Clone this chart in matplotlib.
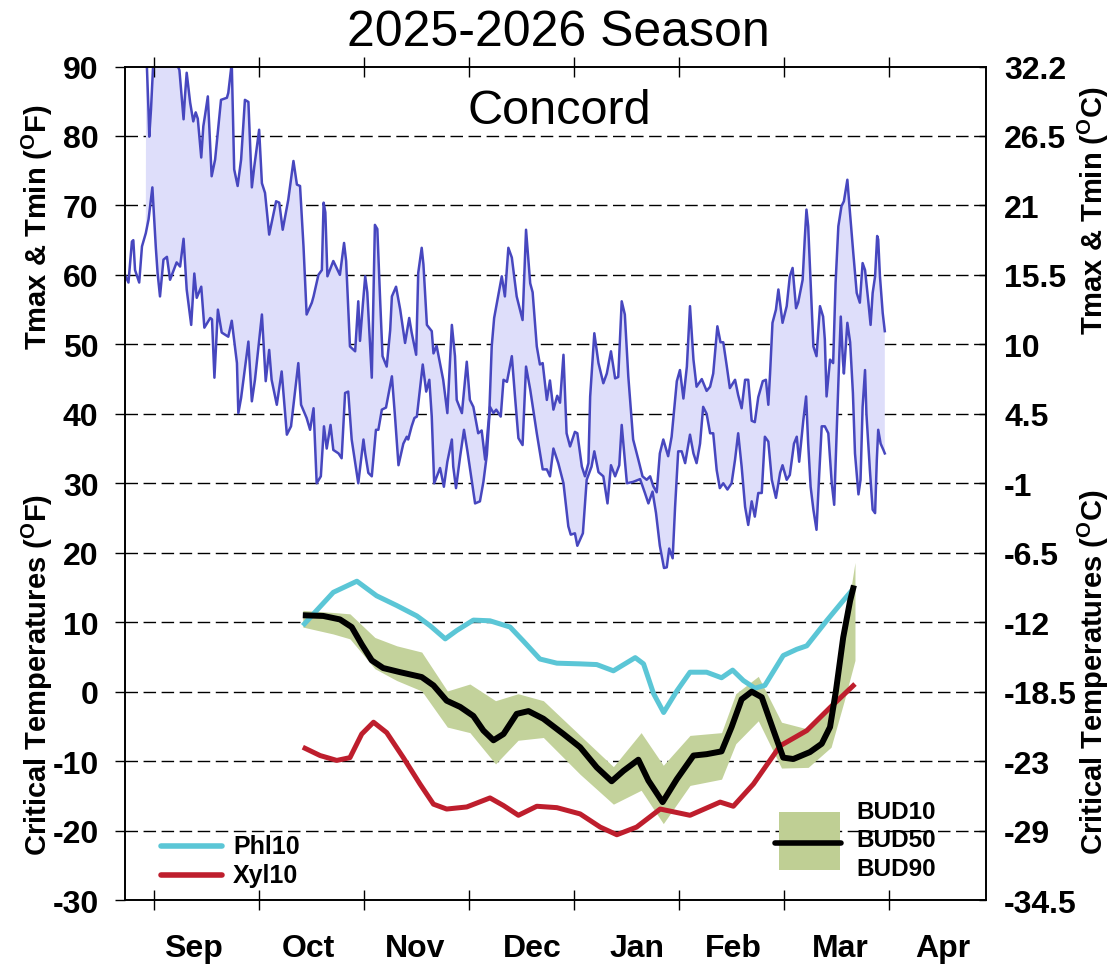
import matplotlib
matplotlib.use("Agg")
import matplotlib.pyplot as plt
from matplotlib.patches import Rectangle
import numpy as np

plt.rcParams['font.family'] = ['Liberation Sans', 'DejaVu Sans']
plt.rcParams['mathtext.fontset'] = 'custom'
plt.rcParams['mathtext.rm'] = 'Liberation Sans:bold'
plt.rcParams['mathtext.it'] = 'Liberation Sans:bold'
plt.rcParams['mathtext.bf'] = 'Liberation Sans:bold'

# x = days since Sep 1 (chart uses equally spaced month ticks)
month_labels = ['Sep', 'Oct', 'Nov', 'Dec', 'Jan', 'Feb', 'Mar', 'Apr']
month_label_pos = [11.5, 44.4, 75.3, 109, 139.3, 167, 197.9, 227.6]
month_len = 212 / 7

# daily Tmax (F)
tmax_day = [-2.3, -1.6, -1.4, -0.9, -0.2, 1.5, 4.0, 6.4, 7.3, 8.5, 8.9, 9.4, 10.4, 11.3,
            12.0, 12.6, 13.6, 14.2, 14.7, 15.5, 16.6, 17.6, 19.3, 21.0, 21.4, 22.4, 23.1,
            24.1, 25.1, 26.2, 27.2, 28.2, 28.9, 30.3, 31.1, 32.0, 33.2, 33.9, 35.2, 36.1,
            37.1, 38.7, 40.2, 41.2, 42.1, 43.1, 44.0, 45.5, 46.0, 47.4, 48.4, 48.9, 49.4,
            50.0, 51.7, 53.6, 54.8, 55.4, 56.5, 58.0, 58.9, 59.4, 60.2, 60.9, 61.5, 62.8,
            63.7, 64.4, 65.2, 65.9, 67.1, 68.1, 68.6, 69.8, 71.0, 72.4, 73.6, 74.3, 75.6,
            76.2, 77.2, 77.7, 78.7, 80.1, 80.6, 81.5, 83.4, 84.6, 85.9, 86.8, 87.3, 88.8,
            90.2, 91.1, 92.1, 93.5, 94.5, 95.5, 96.7, 97.4, 98.1, 99.3, 100.3, 101.2, 102.2,
            103.2, 104.6, 106.3, 107.3, 108.5, 109.2, 110.4, 111.3, 112.1, 113.3, 114.2,
            115.2, 116.3, 117.1, 118.1, 119.0, 120.0, 121.4, 122.1, 123.4, 124.3, 125.3,
            125.8, 127.0, 128.2, 129.6, 130.6, 131.8, 133.0, 133.9, 134.9, 135.8, 136.8,
            138.2, 139.7, 140.9, 142.1, 143.1, 144.0, 145.0, 145.9, 146.9, 148.3, 149.3,
            150.8, 151.7, 152.7, 153.7, 154.6, 155.6, 156.5, 158.0, 159.4, 160.4, 161.3,
            162.5, 163.4, 164.2, 165.2, 166.1, 167.6, 168.5, 169.5, 170.5, 171.4, 172.4,
            173.3, 174.3, 175.6, 176.5, 177.2, 177.7, 178.4, 179.4, 180.1, 181.3, 182.5,
            183.4, 184.2, 185.2, 185.8, 187.1, 187.7, 188.2, 188.7, 189.2, 190.2, 191.1,
            192.1, 193.0, 193.5, 194.0, 195.0, 195.9, 196.6, 197.4, 198.3, 199.0, 200.0,
            200.6, 201.7, 202.7, 203.6, 204.4, 205.1, 206.0, 206.7, 207.3, 208.0, 208.6,
            208.9, 209.4, 210.2, 210.8]
tmax_val = [93, 83.4, 79.9, 83.8, 91, 95, 94, 90.5, 89.5, 82.4, 85.7, 89.1, 84.8, 82.1,
            83.4, 82.5, 76.9, 81.4, 83, 85.7, 74.2, 76.6, 85.2, 85.5, 86.2, 90.5, 75.2,
            72.8, 76.6, 85.2, 84.9, 72.6, 75.6, 80.9, 73.2, 71.8, 65.8, 67.5, 70.6, 70.4,
            66.5, 70.8, 76.4, 73, 72.8, 64.1, 54.3, 56.0, 56.9, 60, 60.7, 70.4, 69,
            59.8, 62, 60, 64.6, 62, 49.7, 49, 56.2, 50.5, 55.6, 59.8, 57.5, 45.2,
            67.2, 66.6, 56.5, 48.3, 46.8, 52, 56.9, 58.3, 55, 50.2, 53.8, 51.7, 48.5,
            60.3, 63.9, 61.5, 52.8, 51.9, 48.7, 49.8, 44.9, 40.1, 52.8, 48.3, 42, 40.1,
            47.5, 42, 41, 37.2, 37.6, 33.4, 40.1, 49.7, 53.8, 57.1, 59.8, 56.9, 63.9,
            62.5, 56.9, 53.5, 66.5, 58.8, 57.5, 49.7, 47.1, 47.3, 42, 44.8,
            40.6, 42.6, 41.6, 48.5, 37.2, 35.3, 37.4, 37.2, 32.4, 31, 32.9,
            42.5, 51.6, 47.3, 44.4, 45.8, 49, 45.1, 45.3, 56.2, 54.3, 45.4,
            36.3, 33.4, 31, 30.5, 31, 29.6, 28.7, 34.3, 36.3, 33.9, 36.7,
            44.7, 46.3, 42.2, 46.8, 55.5, 47.8, 43.9, 45, 43.3, 43.9, 45.8,
            52.6, 50.3, 50.3, 46.9, 43.7, 44.9, 42.7, 40.8, 44.9, 44.9, 39,
            38.8, 42.4, 44.7, 44.9, 41.3, 45.8, 53.1, 55, 57.9, 53.1, 55.5,
            59.8, 61, 55.2, 56, 59.3, 65.1, 69.4, 67, 61.3, 49.7, 48.3,
            55.5, 54, 50.7, 42.5, 47.8, 47.3, 58.8, 67, 69.9, 70.6, 73.7,
            69.9, 63.2, 57.4, 56, 61.7, 60.7, 56.4, 52.8, 57.4, 59.8, 65.6,
            65.1, 59.8, 54.5, 51.9]

# daily Tmin (F)
tmin_day = [-8.4, -7.4, -6.4, -6.0, -5.5, -4.3, -3.5, -2.4, -1.6, -0.5, 0.5, 1.0, 1.7, 2.7,
            3.7, 4.6, 6.5, 7.5, 8.5, 9.4, 10.7, 11.6, 12.3, 13.6, 14.5, 16.2, 16.7, 17.4,
            18.4, 19.5, 21.4, 22.4, 23.9, 24.3, 25.1, 27.2, 28.2, 29.1, 31.1, 32.2, 33.2,
            33.9, 35.4, 36.8, 38.3, 39.5, 41.6, 42.4, 44.0, 45.0, 46.0, 46.9, 48.1, 49.0,
            49.8, 50.9, 51.7, 53.2, 54.1, 55.1, 56.0, 57.0, 58.9, 60.4, 60.9, 61.8, 62.8,
            64.0, 64.7, 65.7, 66.9, 68.6, 69.5, 70.5, 71.9, 72.9, 73.3, 74.3, 75.1, 75.8,
            77.5, 78.5, 79.4, 80.1, 80.8, 82.5, 83.6, 84.6, 85.9, 86.3, 87.1, 88.3, 89.4,
            90.4, 91.9, 92.6, 94.0, 95.0, 96.0, 96.9, 97.9, 98.7, 100.0, 100.8, 101.8,
            103.2, 104.1, 105.1, 106.3, 107.3, 108.5, 110.4, 112.1, 113.3, 114.2, 115.2,
            116.6, 118.1, 119.5, 120.2, 121.4, 122.1, 123.7, 124.8, 126.2, 127.0, 128.2,
            129.6, 130.8, 131.8, 133.0, 134.2, 134.9, 136.4, 138.2, 140.2, 141.6, 142.6,
            143.8, 144.8, 145.9, 147.1, 147.9, 148.6, 149.6, 150.3, 151.2, 152.2, 153.2,
            154.6, 155.6, 156.5, 157.5, 158.4, 159.4, 160.4, 161.3, 162.3, 163.2, 164.2,
            165.4, 166.6, 167.6, 168.5, 169.5, 170.5, 171.4, 172.4, 173.3, 174.3, 175.3,
            176.2, 177.2, 178.2, 179.4, 180.6, 181.3, 182.5, 183.4, 184.6, 185.4, 186.1,
            187.3, 188.1, 188.7, 189.4, 190.2, 191.1, 191.9, 192.6, 193.5, 194.5, 195.5,
            196.2, 196.9, 197.7, 198.1, 198.7, 199.0, 200.0, 200.8, 201.6, 202.2, 203.2,
            203.8, 204.4, 205.1, 205.5, 206.5, 207.3, 208.0, 208.5, 208.9, 209.6, 210.4,
            210.8]
tmin_val = [60, 58.9, 64.8, 65, 60.7, 58.9, 64.1, 66, 68, 72.6, 63.9, 60.3, 56.9, 62.2,
            62.6, 59.3, 61.8, 61.2, 65.2, 57.9, 52.8, 60.2, 56.7, 58.3, 52.4, 53.8, 53.6, 45.2,
            55, 51.7, 51.1, 53.4, 47.3, 40.1, 42.3, 50.4, 41.8, 44.9, 54.3, 44.7, 49.2,
            44.9, 41.3, 46.1, 37, 38.2, 47.3, 41.3, 39.4, 37.7, 40.8, 30, 31, 38.2,
            35, 38.4, 34.8, 34.3, 33.6, 43, 43.2, 36.3, 30, 36.3, 34.3, 31.5, 31,
            37.7, 37.7, 40.6, 40.9, 45.4, 39.6, 32.6, 35.7, 36.7, 36.3, 38.2, 39.4, 39.6,
            47.1, 43.2, 44.9, 39.6, 30, 32.2, 29.5, 33.1, 36.3, 32.4, 29.3, 33.9, 37.7,
            34.6, 29.5, 27.1, 27.4, 30.2, 34.1, 41, 40.1, 40.6, 39.6, 44.9, 44.6,
            48.3, 42.6, 36.5, 35.5, 46.8, 43.5, 37.2, 32, 32, 31, 35,
            32.9, 30, 23.8, 22.6, 22.8, 21, 22.8, 30.5, 32.4, 34.6, 31.6,
            31, 27.1, 32.6, 31, 32.6, 38.4, 30, 30.2, 30.6, 28.6, 27.1,
            28.8, 25.7, 21, 17.8, 17.9, 20.6, 19.2, 26.6, 34.6, 34.6, 32.9,
            37, 34.3, 32.9, 35.7, 41, 40, 37.2, 37.2, 31.9, 29.3, 30,
            29.1, 30, 33.4, 37.2, 32.4, 26.6, 24, 27.4, 25.2, 28.6, 28.6,
            36.7, 36, 30.5, 27.9, 31.5, 32.6, 30.5, 31.2, 35.7, 36.7, 33.1,
            39.1, 42.5, 35.7, 29.5, 26.2, 23.3, 31.5, 38.2, 38.2, 37.2, 30,
            26.9, 37.2, 48.7, 54, 47.8, 45.8, 53.1, 50.3, 43, 34.3, 28.4,
            30.5, 41, 46.3, 40, 31.9, 26.2, 25.7, 33.4, 37.7, 35.7, 34.8,
            34.3]

# critical temperatures (F)
phl_day = [42.9, 46.9, 51.7, 58.5, 64.2, 70.0, 75.8, 79.6, 84.0, 87.3, 92.1, 96.9, 102.7,
           106.5, 111.3, 116.2, 122.9, 127.7, 132.5, 138.8, 141.2, 144.1, 147.0, 150.8,
           154.6, 159.4, 163.7, 166.9, 170.0, 173.3, 176.2, 181.5, 185.4, 188.3, 194.0,
           198.8, 201.7]
phl_val = [9.5, 11.7, 14.3, 15.9, 13.8, 12.4, 10.9, 9.5, 7.6, 8.8, 10.3, 10.2, 9.3,
           7.3, 4.7, 4.1, 4.0, 3.9, 3.0, 4.9, 4.0, -0.3, -3.0, 0.1,
           2.8, 2.8, 2.0, 3.1, 1.6, 0.5, 0.9, 5.2, 6.1, 6.6, 10.2,
           13.1, 14.8]

xyl_day = [42.9, 47.9, 52.7, 56.5, 59.9, 63.3, 67.1, 71.9, 76.7, 80.6, 84.4, 90.2, 96.9,
           100.8, 105.1, 110.4, 116.2, 122.9, 128.7, 133.5, 139.2, 146.0, 154.6, 163.3,
           167.1, 172.9, 180.6, 188.3, 195.0, 202.2]
xyl_val = [-8, -9.2, -9.9, -9.5, -6.1, -4.4, -5.9, -9.5, -13.3, -16.2, -16.9, -16.6, -15.3,
           -16.4, -17.8, -16.5, -16.7, -17.6, -19.5, -20.6, -19.5, -16.9, -17.8, -15.9,
           -16.5, -13.3, -7.8, -5.6, -2.3, 1.1]

bud50_day = [42.9, 48.8, 53.6, 57.0, 59.9, 62.8, 66.1, 71.0, 77.2, 80.6, 84.4, 88.3, 92.1,
             95.0, 97.9, 100.8, 104.6, 108.0, 112.3, 118.1, 122.9, 127.7, 132.0, 135.4,
             139.7, 142.6, 146.7, 150.8, 155.6, 159.4, 163.7, 166.6, 169.5, 172.4, 175.3,
             178.7, 181.5, 184.4, 189.2, 192.6, 195.0, 196.7, 198.8, 200.8, 201.9]
bud50_val = [11, 10.9, 10.4, 9.3, 6.8, 4.5, 3.4, 2.8, 2.1, 0.9, -1.3, -2.2, -3.5,
             -5.6, -7.0, -6.1, -3.2, -2.8, -3.9, -6.1, -8.0, -10.9, -12.9, -11.4,
             -9.8, -12.8, -15.9, -12.6, -9.2, -9.0, -8.6, -5.1, -1.1, 0.0, -0.8,
             -5.6, -9.5, -9.7, -8.7, -7.5, -5.1, 0.1, 7.8, 13.1, 15.3]

bud_day = [42.9, 51.7, 56.5, 63.7, 70.0, 77.2, 84.6, 91.1, 98.5, 105.0, 112.3, 122.9,
           132.5, 140.5, 146.9, 154.6, 163.7, 167.8, 174.3, 181.0, 188.7, 195.3, 199.0, 202.2]
bud10_val = [11.7, 11.4, 11.2, 7.8, 6.6, 5.7, 0.1, 1.1, -1.3, -0.3, -1.3, -6.3,
             -10.8, -5.9, -10.6, -6.3, -5.9, -0.3, 2.2, -4.4, -5.4, -2.0, 8.5, 18.6]
bud90_val = [9.3, 8.3, 7.6, 3.3, 1.6, 0.1, -5.1, -5.9, -10.4, -7.0, -6.6, -11.9,
             -16.2, -14.2, -19.0, -13.5, -12.6, -7.5, -4.2, -11.0, -10.9, -8.0, -1.5, 4.5]

f_ticks = list(range(-30, 91, 10))
c_ticks = ['-34.5', '-29', '-23', '-18.5', '-12', '-6.5', '-1', '4.5', '10', '15.5',
           '21', '26.5', '32.2']

line_blue = '#4747BF'
fill_blue = '#DEDEFA'
cyan = '#5BC6D6'
red = '#BE1E2D'
olive = '#C3D29B'

fig = plt.figure(figsize=(11.12, 9.7), dpi=100)
ax = fig.add_axes([0.1124, 0.0711, 0.7743, 0.8593])

# temperature band
tmax_d = np.array(tmax_day)
tmax_v = np.array(tmax_val)
tmin_d = np.array(tmin_day)
tmin_v = np.array(tmin_val)
keep = tmin_d >= -2.4
poly_x = np.concatenate([tmax_d, tmin_d[keep][::-1]])
poly_y = np.concatenate([tmax_v, tmin_v[keep][::-1]])
ax.fill(poly_x, poly_y, color=fill_blue, lw=0, zorder=1)
ax.plot(tmax_d, tmax_v, color=line_blue, lw=1.8, zorder=2)
ax.plot(tmin_d, tmin_v, color=line_blue, lw=1.8, zorder=2)

# critical temperatures
ax.fill_between(bud_day, bud90_val, bud10_val, color=olive, lw=0, zorder=3)
ax.plot(phl_day, phl_val, color=cyan, lw=3.6, zorder=4, solid_capstyle='butt',
        solid_joinstyle='round')
ax.plot(xyl_day, xyl_val, color=red, lw=3.6, zorder=4, solid_capstyle='butt',
        solid_joinstyle='round')
ax.plot(bud50_day, bud50_val, color='black', lw=4.3, zorder=5, solid_capstyle='butt',
        solid_joinstyle='round')

ax.set_xlim(-8.4, 240)
ax.set_ylim(-30, 90)

for v in f_ticks[1:-1]:
    ax.axhline(v, color='black', lw=1.0, dashes=(9, 4), zorder=0.5)

ax.set_xticks([k * month_len for k in range(8)])
ax.set_xticklabels([])
ax.set_xticks(month_label_pos, minor=True)
ax.set_xticklabels(month_labels, minor=True, fontsize=23, fontweight='bold')
ax.tick_params(axis='x', which='major', direction='inout', length=14, width=1,
               top=True, bottom=True)
ax.tick_params(axis='x', which='minor', length=0, pad=24)

ax.set_yticks(f_ticks)
ax.set_yticklabels([str(v) for v in f_ticks], fontsize=23, fontweight='bold')
ax.tick_params(axis='y', direction='out', length=7, width=1, pad=12)

ax2 = ax.twinx()
ax2.set_ylim(-30, 90)
ax2.set_yticks(f_ticks)
ax2.set_yticklabels(c_ticks, fontsize=23, fontweight='bold')
ax2.tick_params(axis='y', direction='in', length=5, width=1, pad=13)

for a in (ax, ax2):
    for s in a.spines.values():
        s.set_linewidth(1.2)

# legends
ax.plot([0.0418, 0.1127], [0.0648, 0.0648], transform=ax.transAxes, color=cyan, lw=4,
        solid_capstyle='round', clip_on=False, zorder=6)
ax.plot([0.0418, 0.1127], [0.030, 0.030], transform=ax.transAxes, color=red, lw=4,
        solid_capstyle='round', clip_on=False, zorder=6)
ax.text(0.1254, 0.0648, 'Phl10', transform=ax.transAxes, fontsize=18,
        fontweight='bold', va='center', ha='left')
ax.text(0.1254, 0.030, 'Xyl10', transform=ax.transAxes, fontsize=18,
        fontweight='bold', va='center', ha='left')

ax.add_patch(Rectangle((0.7596, 0.036), 0.0708, 0.0696, transform=ax.transAxes,
                       color='#BFCF94', lw=0, zorder=6))
ax.plot([0.755, 0.832], [0.0684, 0.0684], transform=ax.transAxes, color='black', lw=4,
        solid_capstyle='round', zorder=7)
for lab, yy in [('BUD10', 0.1068), ('BUD50', 0.0732), ('BUD90', 0.0384)]:
    ax.text(0.850, yy, lab, transform=ax.transAxes, fontsize=17.5, fontweight='bold',
            va='center', ha='left', zorder=7)

ax.text(0.504, 0.947, 'Concord', transform=ax.transAxes, fontsize=35,
        ha='center', va='center')
fig.text(0.5018, 1 - 33 / 970, '2025-2026 Season', fontsize=36, ha='center', va='center')

# axis titles
deg = r'($^{\mathrm{O}}$'
fig.text(37 / 1112, 1 - 227 / 970, 'Tmax & Tmin ' + deg + 'F)', rotation=90,
         fontsize=21, fontweight='bold', ha='center', va='center')
fig.text(37 / 1112, 1 - 675 / 970, 'Critical Temperatures ' + deg + 'F)', rotation=90,
         fontsize=21, fontweight='bold', ha='center', va='center')
fig.text(1093 / 1112, 1 - 211 / 970, 'Tmax & Tmin ' + deg + 'C)', rotation=90,
         fontsize=21, fontweight='bold', ha='center', va='center')
fig.text(1093 / 1112, 1 - 672 / 970, 'Critical Temperatures ' + deg + 'C)', rotation=90,
         fontsize=21, fontweight='bold', ha='center', va='center')

fig.savefig('out.png', dpi=100)
